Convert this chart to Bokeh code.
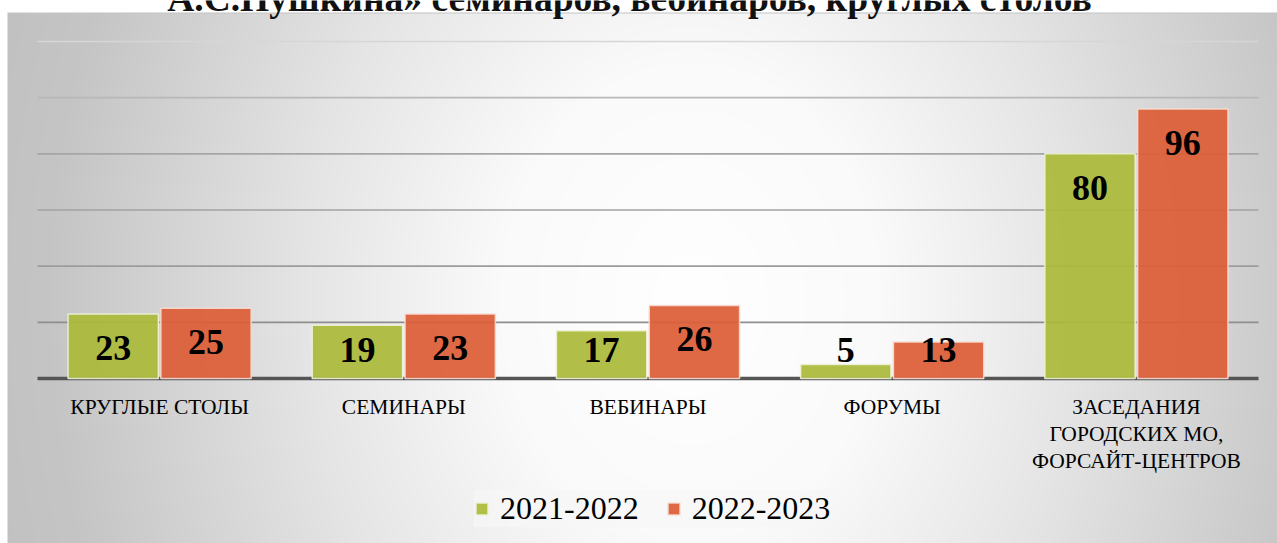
import numpy as np
from bokeh.plotting import figure
from bokeh.models import ColumnDataSource, Range1d, Label, Legend, LegendItem
from bokeh.core.properties import value
from bokeh.embed import file_html
from bokeh.resources import INLINE

categories = ["КРУГЛЫЕ СТОЛЫ", "СЕМИНАРЫ", "ВЕБИНАРЫ", "ФОРУМЫ",
              "ЗАСЕДАНИЯ\nГОРОДСКИХ МО,\nФОРСАЙТ-ЦЕНТРОВ"]
series_names = ["2021-2022", "2022-2023"]
values_2021 = [23, 19, 17, 5, 80]
values_2022 = [25, 23, 26, 13, 96]
title_text = "А.С.Пушкина» семинаров, вебинаров, круглых столов"
grid_ticks = [20, 40, 60, 80, 100, 120]

# ---- styles / layout constants ----
GREEN = "#ABBA3A"
ORANGE = "#DE5E37"
SERIF = "Liberation Serif"
GRID_COLORS = ["#8e8e8e", "#9c9c9c", "#a2a2a2", "#a6a6a6", "#b8b8b8", "#d6d6d6"]

W, H = 1277, 543
PX = 337 / 120.0                 # pixels per value unit (0 at y=378, 120 at y=41)
UNIT = (1258 - 37) / len(categories)  # pixels per category slot
Y_TOP = 378 / PX
Y_BOT = -(H - 378) / PX
X_START = -37 / UNIT
X_END = len(categories) + (W - 1258) / UNIT
OFF = 0.19
BW = 0.37

xc = [i + 0.5 for i in range(len(categories))]


def label_pos(vals):
    return [max(v - 12, 10) for v in vals]


source = ColumnDataSource(dict(
    x=xc,
    xg=[x - OFF for x in xc],
    xo=[x + OFF for x in xc],
    cat=categories,
    v1=values_2021,
    v2=values_2022,
    t1=[str(v) for v in values_2021],
    t2=[str(v) for v in values_2022],
    y1=label_pos(values_2021),
    y2=label_pos(values_2022),
    ly=[-16 / PX] * len(categories),
))

p = figure(width=W, height=H, output_backend="svg", toolbar_location=None,
           x_range=Range1d(X_START, X_END), y_range=Range1d(Y_BOT, Y_TOP),
           x_axis_location=None, y_axis_location=None,
           min_border_left=0, min_border_right=0, min_border_top=0, min_border_bottom=0)
p.border_fill_color = "#ffffff"
p.background_fill_color = "#ffffff"
p.outline_line_color = None
p.xgrid.visible = False
p.ygrid.visible = False

# ---- background panel: radial grey gradient (style only) ----
yy, xx = np.mgrid[0:H, 0:W].astype(float)
d = np.sqrt(((xx - 690) / 640.0) ** 2 + ((yy - 300) / 800.0) ** 2)
stops_d = [0.0, 0.3, 0.6, 1.0, 1.3]
stops_v = [255, 250, 229, 197, 188]
g = np.interp(d, stops_d, stops_v)
g[:12, :] = 255
g[:, :7] = 255
g[12, 7:] = 196
g = g.astype(np.uint32)
rgba = (255 << 24) | (g << 16) | (g << 8) | g
img = np.flipud(rgba).astype(np.uint32)
p.image_rgba(image=[img], x=X_START, y=Y_BOT, dw=X_END - X_START, dh=Y_TOP - Y_BOT)

# ---- gridlines and base line ----
p.segment(x0=[0] * len(grid_ticks), x1=[len(categories)] * len(grid_ticks),
          y0=grid_ticks, y1=grid_ticks, line_color=GRID_COLORS, line_width=1.6)
p.segment(x0=[0], x1=[len(categories)], y0=[0], y1=[0], line_color="#555555", line_width=3.5)

# ---- bars ----
r1 = p.vbar(x="xg", top="v1", width=BW, source=source,
            fill_color=GREEN, fill_alpha=0.93, line_color="#eef2d8", line_width=1.5, line_alpha=0.9)
r2 = p.vbar(x="xo", top="v2", width=BW, source=source,
            fill_color=ORANGE, fill_alpha=0.93, line_color="#f6ddd3", line_width=1.5, line_alpha=0.9)

for xcol, tcol, ycol in [("xg", "t1", "y1"), ("xo", "t2", "y2")]:
    p.text(x=xcol, y=ycol, text=tcol, source=source,
           text_font=value(SERIF), text_font_style="bold", text_font_size="36px",
           text_color="#000000", text_align="center", text_baseline="middle")

# category labels (x axis)
p.text(x="x", y="ly", text="cat", source=source,
       text_font=value(SERIF), text_font_size="21.5px", text_color="#000000",
       text_align="center", text_baseline="top", text_line_height=1.14)

title = Label(x=629, x_units="screen", y=Y_TOP + 2 / PX, text=title_text,
              text_font=SERIF, text_font_style="bold", text_font_size="37.5px",
              text_color="#111111", text_align="center", text_baseline="alphabetic")
p.add_layout(title)

legend = Legend(items=[LegendItem(label=series_names[0], renderers=[r1]),
                       LegendItem(label=series_names[1], renderers=[r2])],
                orientation="horizontal", location=(474, 16))
legend.label_text_font = SERIF
legend.label_text_font_size = "32px"
legend.label_text_color = "#000000"
legend.glyph_width = 15
legend.glyph_height = 15
legend.label_standoff = 11
legend.spacing = 27
legend.padding = 8
legend.margin = 0
legend.background_fill_color = "#f6f6f6"
legend.background_fill_alpha = 0.7
legend.border_line_color = None
p.add_layout(legend)

open("out.html", "w").write(file_html(p, INLINE))
